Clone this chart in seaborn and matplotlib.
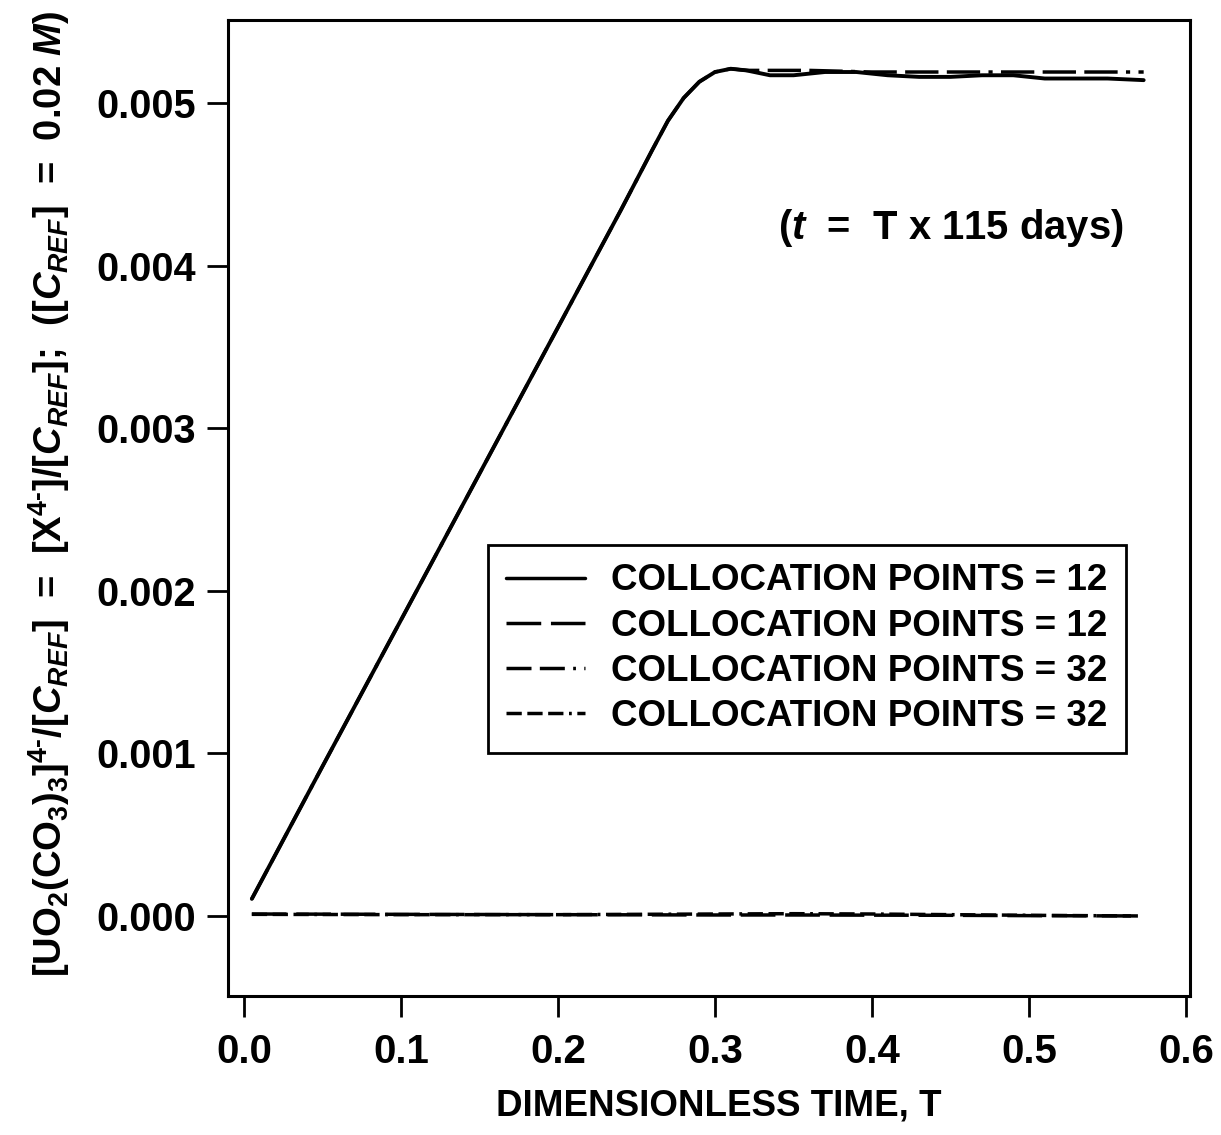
import matplotlib
matplotlib.use("Agg")
import matplotlib.pyplot as plt
import seaborn as sns
from matplotlib.lines import Line2D

# values
T_rise = [0.005, 0.05, 0.10, 0.15, 0.20, 0.24, 0.26, 0.27, 0.28, 0.29, 0.30, 0.31]
C_rise = [0.000105, 0.00092, 0.00182, 0.00272, 0.00362, 0.00434, 0.00471, 0.00489,
          0.00503, 0.00513, 0.00519, 0.00521]

# solid, 12 points: slight wiggle on the plateau
T_12_plat = [0.32, 0.335, 0.35, 0.37, 0.39, 0.41, 0.43, 0.45, 0.47, 0.49, 0.51, 0.53, 0.55, 0.573]
C_12_plat = [0.00520, 0.00517, 0.00517, 0.00519, 0.00519, 0.00517, 0.00516, 0.00516,
             0.00517, 0.00517, 0.00515, 0.00515, 0.00515, 0.00514]

# long dash-dot, 32 points: smooth plateau
T_32_plat = [0.32, 0.36, 0.40, 0.44, 0.48, 0.52, 0.573]
C_32_plat = [0.00520, 0.00520, 0.00519, 0.00519, 0.00519, 0.00519, 0.00519]

# lines near zero
T_low = [0.005, 0.10, 0.20, 0.30, 0.35, 0.40, 0.45, 0.50, 0.57]
C_low_12 = [0.000012, 0.000010, 0.000008, 0.000006, 0.000006, 0.000005, 0.000004, 0.000002, 0.0]
C_low_32 = [0.000010, 0.000008, 0.000008, 0.000012, 0.000014, 0.000012, 0.000008, 0.000004, 0.0]

labels = ["COLLOCATION POINTS = 12", "COLLOCATION POINTS = 12",
          "COLLOCATION POINTS = 32", "COLLOCATION POINTS = 32"]
x_ticks = [0.0, 0.1, 0.2, 0.3, 0.4, 0.5, 0.6]
y_ticks = [0.000, 0.001, 0.002, 0.003, 0.004, 0.005]

sns.set_theme(style="ticks")
plt.rcParams["font.family"] = ["Liberation Sans", "DejaVu Sans"]
plt.rcParams["font.weight"] = "bold"
plt.rcParams["text.color"] = "black"
plt.rcParams["axes.labelcolor"] = "black"
plt.rcParams["mathtext.fontset"] = "custom"
plt.rcParams["mathtext.rm"] = "Liberation Sans:bold"
plt.rcParams["mathtext.it"] = "Liberation Sans:italic:bold"
plt.rcParams["mathtext.bf"] = "Liberation Sans:bold"
plt.rcParams["lines.scale_dashes"] = False

styles = ["-", (0, (25, 7)), (0, (18, 6, 18, 6, 2, 6)), (0, (11, 4, 11, 4, 11, 4, 2, 4))]

fig = plt.figure(figsize=(12.21, 11.35), dpi=100)
ax = fig.add_axes([0.1867, 0.1225, 0.7879, 0.8599])

sns.lineplot(x=T_rise + T_12_plat, y=C_rise + C_12_plat, ax=ax, color="black",
             linewidth=2.8, linestyle=styles[0])
sns.lineplot(x=T_low, y=C_low_12, ax=ax, color="black", linewidth=2.5, linestyle=styles[1])
sns.lineplot(x=T_rise + T_32_plat, y=C_rise + C_32_plat, ax=ax, color="black",
             linewidth=2.5, linestyle=(0, (24, 6, 24, 6, 24, 6, 3, 6)))
sns.lineplot(x=T_low, y=C_low_32, ax=ax, color="black", linewidth=2.5, linestyle=styles[3])

ax.set_xlim(-0.0102, 0.6025)
ax.set_ylim(-0.000492, 0.00551)
ax.set_xticks(x_ticks)
ax.set_xticklabels([f"{v:.1f}" for v in x_ticks])
ax.set_yticks(y_ticks)
ax.set_yticklabels([f"{v:.3f}" for v in y_ticks])
ax.tick_params(axis="both", direction="out", length=15, width=2, colors="black")
ax.tick_params(axis="x", pad=12, labelsize=29)
ax.tick_params(axis="y", pad=8, labelsize=28.5)
for sp in ax.spines.values():
    sp.set_visible(True)
    sp.set_linewidth(2.2)
    sp.set_color("black")

ax.set_xlabel("DIMENSIONLESS TIME, T", fontsize=26.5, fontweight="bold", labelpad=14)
ax.xaxis.set_label_coords(0.51, -0.095)
ax.set_ylabel("[UO$_2$(CO$_3$)$_3$]$^{4\u2010}$/[$C_{REF}$]  =  [X$^{4\u2010}$]/[$C_{REF}$];  "
              "([$C_{REF}$]  =  0.02 $M$)", fontsize=27.5, fontweight="bold")
ax.yaxis.set_label_coords(-0.162, 0.515)

ax.text(0.340, 0.00423, "($t$  =  T x 115 days)", fontsize=28.8, fontweight="bold",
        ha="left", va="center")

handles = [Line2D([0], [0], color="black", linewidth=2.5, linestyle=s) for s in styles]
leg = ax.legend(handles, labels, loc="upper left", bbox_to_anchor=(0.270, 0.462),
                fontsize=26.5, handlelength=2.15, handletextpad=0.7, labelspacing=0.28,
                borderaxespad=0, borderpad=0.5, fancybox=False, framealpha=1,
                edgecolor="black")
leg.get_frame().set_linewidth(2)
for t in leg.get_texts():
    t.set_fontweight("bold")

fig.savefig("out.png", dpi=100)
